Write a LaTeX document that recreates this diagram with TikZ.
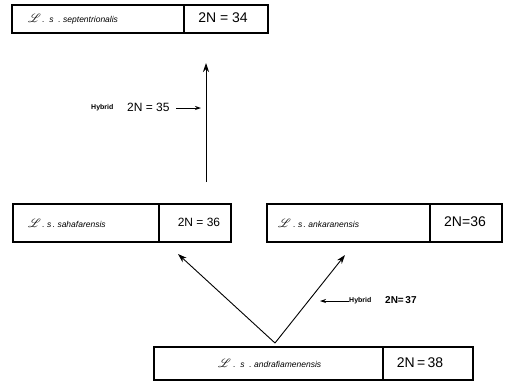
\documentclass[tikz,border=0pt]{standalone}
\usepackage{fontspec}
\setsansfont{Liberation Sans}
\usepackage{amsmath}
\usepackage{mathrsfs}
\usepackage{bm}
\usetikzlibrary{arrows.meta}
\newcommand{\bigL}{{\fontsize{13}{13}\selectfont$\bm{\mathscr{L}}$}}
\begin{document}
\begin{tikzpicture}[x=1pt,y=-1pt,
  cell/.style={draw,line width=1.1pt,inner sep=0pt,outer sep=0pt},
  taxon/.style={anchor=west,inner sep=0pt,font=\sffamily\itshape\fontsize{8.5}{9}\selectfont},
  chrom/.style={inner sep=0pt,font=\sffamily\fontsize{14}{15}\selectfont},
  hyb/.style={inner sep=0pt,font=\sffamily\bfseries\fontsize{7}{8}\selectfont},
  hybn/.style={inner sep=0pt,font=\sffamily\fontsize{12}{13}\selectfont},
  arr/.style={line width=0.9pt,-{Stealth[length=9pt,width=6pt]}},
  sarr/.style={line width=0.8pt,-{Stealth[length=6pt,width=4pt]}}]
\useasboundingbox (0,0) rectangle (506,384);
% top box
\node[cell,minimum width=172pt,minimum height=28pt] (sepB) at (98,19) {};
\node[cell,minimum width=84pt,minimum height=28pt] (sepC) at (226,19) {};
\node[taxon] (sepT) at (28,19) {\bigL\,.\ \ s\ \ .\ septentrionalis};
\node[chrom] (sepN) at (223,18) {2N = 34};
% sahafarensis
\node[cell,minimum width=146pt,minimum height=38pt] (sahB) at (86,223) {};
\node[cell,minimum width=72pt,minimum height=38pt] (sahC) at (195,223) {};
\node[taxon] (sahT) at (28,223) {\bigL\,.\ s\,.\ sahafarensis};
\node[chrom,font=\sffamily\fontsize{12}{13}\selectfont] (sahN) at (199,222) {2N = 36};
% ankaranensis
\node[cell,minimum width=163pt,minimum height=38pt] (ankB) at (348.5,223) {};
\node[cell,minimum width=72pt,minimum height=38pt] (ankC) at (466,223) {};
\node[taxon] (ankT) at (278,223) {\bigL\ .\ s\,.\ ankaranensis};
\node[chrom] (ankN) at (465,222) {2N=36};
% andrafiamenensis
\node[cell,minimum width=229pt,minimum height=33pt] (andB) at (268.5,363.5) {};
\node[cell,minimum width=90pt,minimum height=33pt] (andC) at (428,363.5) {};
\node[taxon] (andT) at (218,363.5) {\bigL\ .\ \ s\ \ .\ andrafiamenensis};
\node[chrom] (andN) at (420,362.5) {2N\,=\,38};
% vertical arrow
\coordinate (vlow) at (206,182);
\coordinate (vtop) at (206,63);
\draw[arr] (vlow) -- (vtop);
\node[hyb,anchor=west] (h1) at (91,108) {Hybrid};
\node[hybn,anchor=west] (h1n) at (127,107) {2N = 35};
\coordinate (h1s) at (176,108);
\coordinate (h1a) at (201,108);
\draw[sarr] (h1s) -- (h1a);
% V arrows
\coordinate (apex) at (275,343);
\coordinate (ltip) at (178,254);
\coordinate (rtip) at (345,255);
\draw[arr] (apex) -- (ltip);
\draw[arr] (apex) -- (rtip);
\coordinate (h2s) at (349,301);
\coordinate (h2a) at (320,301);
\draw[sarr] (h2s) -- (h2a);
\node[hyb,anchor=west] (h2) at (349,301) {Hybrid};
\node[hybn,anchor=west,font=\sffamily\bfseries\fontsize{10}{11}\selectfont] (h2n) at (385,300) {2N=\,37};
\end{tikzpicture}
\end{document}
